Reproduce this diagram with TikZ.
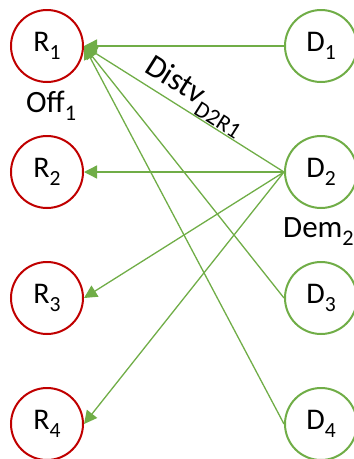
\documentclass[tikz,border=0pt]{standalone}
\usepackage{fontspec}
\setmainfont{Carlito}
\usetikzlibrary{arrows.meta}
\definecolor{rcol}{RGB}{192,0,0}
\definecolor{gcol}{RGB}{112,173,71}
\newcommand\mysub[1]{\raisebox{-0.27em}{\fontsize{0.72em}{0.8em}\selectfont #1}}
\begin{document}
\begin{tikzpicture}[x=1pt,y=-1pt,
  base/.style={circle,line width=2pt,minimum size=72pt,inner sep=0pt,font=\fontsize{30}{32}\selectfont},
  rnode/.style={base,draw=rcol},
  dnode/.style={base,draw=gcol},
  link/.style={draw=gcol,line width=1.3pt,-{Triangle[length=13pt,width=13pt]}},
  lab/.style={font=\fontsize{31}{33}\selectfont,inner sep=0pt},
  elab/.style={font=\fontsize{32}{34}\selectfont,inner sep=1pt}]
\useasboundingbox (0,0) rectangle (354,459);
\clip (0,0) rectangle (354,459);
\node[rnode] (R1) at (47,46) {R\mysub{1}};
\node[rnode] (R2) at (47,172) {R\mysub{2}};
\node[rnode] (R3) at (47,298) {R\mysub{3}};
\node[rnode] (R4) at (47,424) {R\mysub{4}};
\node[dnode] (D1) at (321,46) {D\mysub{1}};
\node[dnode] (D2) at (321,172) {D\mysub{2}};
\node[dnode] (D3) at (321,298) {D\mysub{3}};
\node[dnode] (D4) at (321,424) {D\mysub{4}};
\node[lab,anchor=base west] (off) at (26,112) {Off\mysub{1}};
\node[lab,anchor=base west] (dem) at (283,237) {Dem\mysub{2}};
\draw[link] (D1.west) -- (R1.east);
\draw[link] (D2.west) -- (R1.east);
\draw[link] (D3.west) -- (R1.east);
\draw[link] (D4.west) -- (R1.east);
\draw[link] (D2.west) -- (R2.east);
\draw[link] (D2.west) -- (R3.east);
\draw[link] (D2.west) -- (R4.east);
\path (R1.east) -- node[elab,sloped,above,pos=0.51] (dist) {Distv{\fontsize{23}{25}\selectfont\raisebox{-0.4em}{D2R1}}} (D2.west);
\end{tikzpicture}
\end{document}
